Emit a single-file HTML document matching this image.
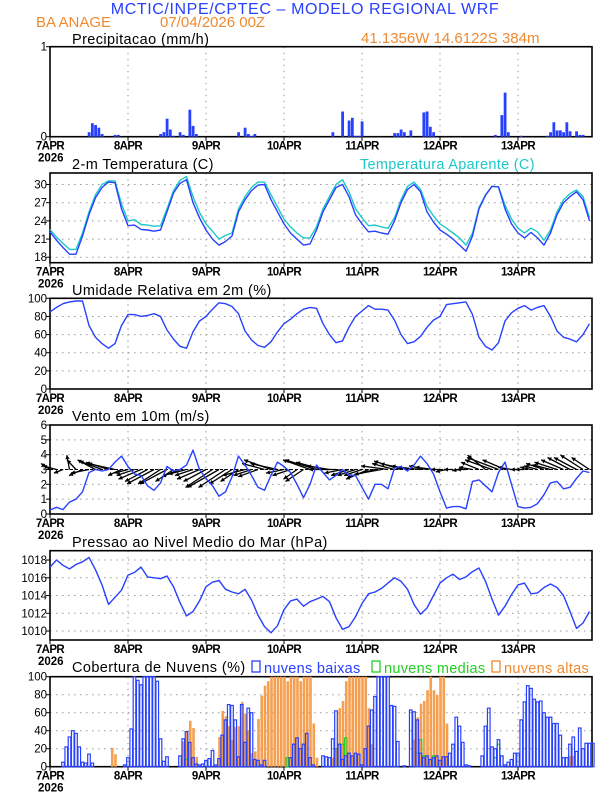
<!DOCTYPE html>
<html><head><meta charset="utf-8"><style>
html,body{margin:0;padding:0;background:#fff;}
svg{display:block;font-family:"Liberation Sans",sans-serif;}
</style></head><body>
<svg id="chart" width="612" height="792" viewBox="0 0 612 792" xmlns="http://www.w3.org/2000/svg">
<text x="305" y="14" text-anchor="middle" font-size="16" fill="#2840ff" letter-spacing="0.6">MCTIC/INPE/CPTEC – MODELO REGIONAL WRF</text>
<text x="36" y="27" font-size="15" fill="#f08a30">BA ANAGE</text>
<text x="160" y="27" font-size="15" fill="#f08a30">07/04/2026 00Z</text>
<text x="361" y="43" font-size="15" fill="#f08a30">41.1356W  14.6122S  384m</text>
<g id="plots"></g>
</svg>
<script>
// ---------- DATA ----------
const dayLabels = ["7APR","8APR","9APR","10APR","11APR","12APR","13APR"];
const yearLabel = "2026";
// precipitation (sparse hourly)
const precipHours = [12,13,14,15,16,20,21,34,35,36,37,38,40,41,43,44,45,58,60,61,62,63,87,90,92,93,94,95,96,106,107,108,109,111,115,116,117,118,137,139,140,141,145,153,154,155,156,157,158,159,160,162,163,164];
const precipVals  = [0.05,0.15,0.13,0.1,0.03,0.02,0.02,0.03,0.05,0.2,0.08,0.01,0.05,0.02,0.3,0.12,0.03,0.05,0.1,0.03,0.01,0.03,0.05,0.28,0.18,0.21,0.01,0.01,0.17,0.04,0.04,0.08,0.05,0.07,0.27,0.28,0.11,0.05,0.02,0.24,0.49,0.05,0.01,0.01,0.05,0.16,0.07,0.07,0.05,0.16,0.06,0.06,0.02,0.02];
// 2-hourly series (hours 0,2,...,166)
const tempVals = [22.2,20.8,19.6,18.5,18.5,21.5,25,27.8,29.5,30.4,30.3,26,
 23.2,23.3,22.6,22.5,22.3,22.5,25.5,28.6,30.2,30.8,27,24.5,
 22.5,21,20,20.6,21.5,25.5,27.5,29,29.9,30,27.5,25.5,
 23.5,22,21,20,20.2,22.5,25.5,27.5,29.5,30,28,25,
 23.5,22.2,22.3,22,21.8,24,27,29.2,30,28.8,25.5,23.8,
 22.5,21.8,21,20,19,21.5,26,28.2,29.7,29.6,26,23.5,
 22,21.2,22.1,21.2,20,22,25,27,28,28.8,27.5,24];
const apparentVals = [22.6,21.3,20.3,19.3,19.3,22,25.5,28.3,30,30.6,30.6,26.8,
 24,24.2,23.4,23.3,23.1,23.2,26,29,30.7,31.3,28,25.4,
 23.5,22.3,21,21.6,22,26,28,29.5,30.4,30.4,28.3,26.3,
 24.3,23,22,21.2,21.2,23,26,28,30,30.8,28.8,26,
 24.5,23.2,23.3,23,22.8,24.5,27.5,29.7,30.4,29.2,26.4,24.8,
 23.5,22.8,22,21.2,20,22,26.2,28.3,29.7,29.6,26.6,24.3,
 22.8,22,22.8,22.2,20.8,22.5,25.5,27.5,28.5,29.1,28,24.5];
const rhVals = [85,90,94,96,97,97,70,57,50,45,50,70,
 82,82,80,81,83,80,65,55,47,45,63,75,
 80,88,95,94,91,83,64,54,48,46,52,63,
 72,77,83,88,90,89,72,60,51,53,68,80,
 86,92,88,88,87,76,60,50,52,58,68,76,
 80,93,94,95,96,82,57,47,43,51,75,84,
 89,92,87,90,92,80,64,57,55,52,60,72];
const windVals = [0.27,0.45,0.3,0.8,1.0,1.5,2.8,3.0,2.9,3.0,3.5,3.9,
 3.2,2.7,2.6,1.9,1.6,2.1,3.2,2.9,3.0,3.3,4.3,3.0,
 2.4,1.9,1.2,1.5,2.5,3.9,3.3,2.6,1.8,1.6,2.6,3.5,
 3.2,2.8,2.0,1.1,2.0,3.3,2.8,2.3,2.6,3.0,2.6,2.6,
 1.8,1.0,2.0,2.0,1.7,3.1,3.2,2.9,3.3,3.9,3.4,2.7,
 1.5,0.4,0.5,0.5,0.35,2.2,2.3,1.9,1.5,2.8,3.5,2.0,
 0.5,0.4,0.45,0.7,1.3,2.1,2.2,1.7,1.8,2.4,2.9,2.8];
const windU = [-1,-1.5,-1,-0.3,-1,-1.5,-2,-2,-2.5,-2.5,-3,-1.5,
 -1.5,-2,-2.5,-2.5,-3,-2.5,-3,-2,-2,-2,-2,-2.5,
 -2.5,-3,-3.5,-3,-2.5,-2,-2.5,-2,-2.2,-2.5,-3,-3,
 -2,-2,-1.5,-2,-3,-3.5,-3,-2.5,-3,-2,-2,-2,
 -2,-2.5,-3,-3,-3,-2.5,-3,-3,-2.5,-2.5,-2,-2,
 -1,-1.2,-1,-0.8,-1,-1.5,-2,-2,-3,-3.5,-2.5,-1.5,
 -0.8,-1,-1.2,-1.5,-2,-2,-2.5,-2.5,-2.5,-2.5,-2.5,-2];
const windV = [0.5,0.3,-0.3,1.2,0.8,-0.5,-0.3,0.8,0.7,0.6,0.5,-0.5,
 -0.3,-0.5,-0.8,-1,-1.2,-1.2,-1.2,-1,-0.6,-0.4,-0.5,-0.8,
 -1,-1.5,-1.5,-1.5,-1.2,-1,-0.5,-0.5,-0.6,0.5,0.8,0.5,
 -0.3,-0.5,-0.8,-1,0.8,0.8,0.6,0.3,0,-0.3,-0.5,-0.5,
 -0.5,-0.8,-0.6,-0.4,0.3,0.5,0.7,0.5,0.3,0.2,0.3,0.2,
 0,-0.2,0,-0.1,0,0.2,0.6,1.2,0.8,1,0.8,0.2,
 0,0,0.2,0.3,0.5,0.4,0.6,0.8,1,1,1.2,1];
const pressVals = [1017.2,1018,1017.4,1017.0,1017.5,1017.8,1018.3,1016.9,1015.2,1013.0,1013.8,1014.6,
 1016.3,1016.6,1017.2,1016.1,1016.0,1015.9,1016.2,1015.0,1013.2,1011.7,1012.2,1013.4,
 1015.0,1015.5,1015.7,1014.7,1014.4,1014.2,1014.7,1013.5,1011.8,1010.5,1009.8,1010.6,
 1012.4,1013.4,1013.6,1012.8,1013.3,1013.6,1013.9,1013.3,1011.5,1010.2,1010.5,1011.6,
 1013.1,1014.2,1014.4,1014.8,1015.4,1016.0,1015.6,1014.7,1013.0,1011.9,1012.6,1014.0,
 1015.4,1016.0,1016.4,1015.8,1016.1,1016.7,1017.1,1015.6,1013.6,1011.8,1012.8,1014.1,
 1015.2,1015.4,1014.2,1014.3,1014.9,1015.3,1014.9,1014.0,1012.2,1010.3,1010.9,1012.2];
// hourly cloud cover (hours 0..167)
const lowClouds = [0,0,0,0,5,22,33,40,37,22,5,4,14,4,0,0,0,0,0,0,0,0,0,2,
 10,42,100,96,91,100,100,100,100,95,31,6,11,0,0,0,12,31,39,27,10,3,2,3,
 7,9,18,2,9,35,52,69,68,52,11,69,27,65,60,8,7,2,7,0,0,0,0,0,
 0,0,10,25,32,20,25,37,10,2,0,0,12,11,10,31,62,25,8,12,15,12,15,14,
 2,20,45,63,78,100,100,100,100,68,67,28,0,1,0,63,61,52,15,10,12,8,10,12,
 7,11,11,15,25,55,45,27,2,1,0,0,0,12,45,65,22,20,30,12,2,5,8,15,
 15,52,72,90,87,75,72,73,60,55,55,48,48,35,10,10,25,33,17,43,20,26,26,26];
const highClouds = [0,0,0,0,0,0,0,0,0,0,0,0,0,0,0,0,0,0,0,21,14,0,0,0,
 0,0,0,0,0,0,0,0,0,0,0,0,0,0,0,0,0,28,40,51,43,11,0,0,
 0,0,0,0,33,62,56,45,30,44,45,72,59,40,15,17,53,79,90,95,100,100,100,100,
 100,95,100,100,100,95,100,100,100,48,10,0,0,0,0,10,20,65,73,95,100,100,100,100,
 100,100,65,25,0,0,0,0,0,0,0,0,0,0,0,0,30,55,70,73,85,100,85,80,
 100,100,48,0,0,0,0,0,0,0,0,0,0,0,0,0,0,0,0,0,0,0,0,0,
 0,0,0,0,0,0,0,0,0,0,0,0,0,0,0,0,12,12,0,0,0,0,0,0];
const midHours = [42,73,88,89,90,91,113,114,115,118,137,138,139];
const midVals  = [8,10,20,25,25,32,15,30,12,12,10,25,12];

// ---------- LAYOUT ----------
const NS="http://www.w3.org/2000/svg";
const root=document.getElementById('plots');
const L=50, R=592, PXH=3.25;
const X=h=>L+h*PXH;
const BLUE="#2840ff", CYAN="#1ec8c8", ORANGE="#f5a050", GREEN="#22d022";
function el(tag,attrs,parent){const e=document.createElementNS(NS,tag);for(const k in attrs)e.setAttribute(k,attrs[k]);(parent||root).appendChild(e);return e;}
function panel(name,top,bot,vmin,vmax,ticks,title,titleY){
  const g=el('g',{});
  
  
  const Y=v=>bot-(v-vmin)/(vmax-vmin)*(bot-top);
  ticks.forEach(t=>{const y=Y(t);if(y>top+1&&y<bot-1){const ln=el('line',{x1:L,x2:R,y1:y,y2:y,stroke:'#999','stroke-width':1,'stroke-dasharray':'1.5,4.5'},g);
    
    }});
  for(let d=1;d<7;d++){const x=X(d*24);const ln=el('line',{x1:x,x2:x,y1:top,y2:bot,stroke:'#999','stroke-width':1,'stroke-dasharray':'1.5,4.5'},g);
    
    }
  const fr=el('rect',{x:L,y:top,width:R-L,height:bot-top,fill:'none',stroke:'#000','stroke-width':1.6},g);
  
  
  ticks.forEach(t=>{const y=Y(t);
    el('line',{x1:L-4,x2:L,y1:y,y2:y,stroke:'#000','stroke-width':1},g);
    const tx=el('text',{x:L-3,y:y+4,'text-anchor':'end','font-size':11.5,fill:'#000'},g);
    tx.textContent=t;
    
    });
  dayLabels.forEach((lb,i)=>{const x=X(i*24);
    el('line',{x1:x,x2:x,y1:bot,y2:bot+4,stroke:'#000','stroke-width':1},g);
    const tx=el('text',{x:x,y:bot+13,'text-anchor':'middle','font-size':11.5,'font-weight':'bold','letter-spacing':'-0.6',fill:'#000'},g);
    tx.textContent=lb;
    
    });
  const yr=el('text',{x:L-12,y:bot+25,'font-size':11.5,'font-weight':'bold',fill:'#000'},g);
  yr.textContent=yearLabel;
  
  
  const tt=el('text',{x:72,y:titleY,'font-size':14.5,fill:'#000','letter-spacing':'0.4'},g);
  tt.textContent=title;
  
  
  return {g,Y};
}
function line(g,vals,Y,color,name){
  const pts=vals.map((v,i)=>X(i*2).toFixed(1)+','+Y(v).toFixed(1)).join(' ');
  const p=el('polyline',{points:pts,fill:'none',stroke:color,'stroke-width':1.4,'stroke-linejoin':'round'},g);
  
  
}
// Precip
{const {g,Y}=panel('precip',46.7,136.7,0,1,[0,1],'Precipitacao (mm/h)',44);
 precipHours.forEach((h,i)=>{const y=Y(precipVals[i]);
  const r=el('rect',{x:X(h)-1.3,y:y,width:2.8,height:Y(0)-y,fill:BLUE},g);
  
  });}
// Temperature
{const {g,Y}=panel('temp',173,262.7,17.1,31.9,[18,21,24,27,30],'2-m Temperatura (C)',169);
 line(g,apparentVals,Y,CYAN,'apparent-temp-line');
 line(g,tempVals,Y,BLUE,'temp-line');
 const t=el('text',{x:360,y:169,'font-size':14.5,fill:CYAN,'letter-spacing':'0.3'},g);
 t.textContent='Temperatura Aparente (C)';
 
 }
// RH
{const {g,Y}=panel('rh',298.3,389,0,100,[0,20,40,60,80,100],'Umidade Relativa em 2m (%)',295);
 line(g,rhVals,Y,BLUE,'rh-line');}
// Wind
{const {g,Y}=panel('wind',425,514,0,6,[0,1,2,3,4,5,6],'Vento em 10m (m/s)',421);
 const y0=Y(3);
 const bl=el('line',{x1:L,x2:R,y1:y0,y2:y0,stroke:'#000','stroke-width':1,'stroke-dasharray':'3,2'},g);
 
 
 const ku=9, kv=12;
 windU.forEach((u,i)=>{const x1=X(i*2),x2=x1+u*ku,y2=y0-windV[i]*kv;
   const a=el('g',{},g);
   
   
   el('line',{x1:x1,y1:y0,x2:x2,y2:y2,stroke:'#000','stroke-width':1.3},a);
   const ang=Math.atan2(y2-y0,x2-x1),hl=4.5;
   const p1=[x2-hl*Math.cos(ang-0.5),y2-hl*Math.sin(ang-0.5)],p2=[x2-hl*Math.cos(ang+0.5),y2-hl*Math.sin(ang+0.5)];
   el('polygon',{points:`${x2},${y2} ${p1} ${p2}`,fill:'#000'},a);});
 line(g,windVals,Y,BLUE,'wind-speed-line');}
// Pressure
{const {g,Y}=panel('pressure',550.7,640,1008.99,1019.05,[1010,1012,1014,1016,1018],'Pressao ao Nivel Medio do Mar (hPa)',547);
 line(g,pressVals,Y,BLUE,'pressure-line');}
// Clouds
{const {g,Y}=panel('clouds',676.7,766.7,0,100,[0,20,40,60,80,100],'Cobertura de Nuvens (%)',672);
 const w=2.6;
 highClouds.forEach((v,h)=>{if(v<=0)return;const y=Y(v);
  const r=el('rect',{x:X(h)-w/2+0.5,y:y,width:w,height:Y(0)-y,fill:ORANGE},g);
  
  });
 midHours.forEach((h,i)=>{const y=Y(midVals[i]);
  const r=el('rect',{x:X(h)-w/2,y:y,width:w,height:Y(0)-y,fill:'none',stroke:GREEN,'stroke-width':1.2},g);
  
  });
 lowClouds.forEach((v,h)=>{if(v<=0)return;const y=Y(v);
  const r=el('rect',{x:X(h)-w/2,y:y,width:w,height:Y(0)-y,fill:'none',stroke:BLUE,'stroke-width':1.2},g);
  
  });
 const leg=[[252,BLUE,'nuvens baixas','low'],[372,GREEN,'nuvens medias','mid'],[492,'#f08a30','nuvens altas','high']];
 leg.forEach(([x,c,t,n])=>{
  const b=el('rect',{x:x,y:661,width:8,height:11,fill:'none',stroke:c,'stroke-width':1.3},g);
  
  
  const tx=el('text',{x:x+12,y:673,'font-size':14.5,fill:c,'letter-spacing':'0.3'},g);
  tx.textContent=t;
  
  });}
</script>
</body></html>
